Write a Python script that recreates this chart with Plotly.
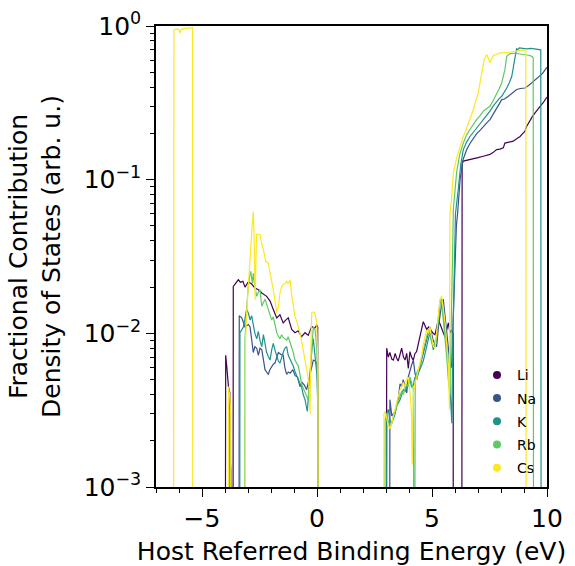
import plotly.graph_objects as go

LOW = 1e-5  # zero contribution (drawn below the axis floor)

# ---------------- data ----------------
li_x = [-4.00, -3.97, -3.92, -3.85, -3.79, -3.77,
        -3.66, -3.64, -3.55, -3.42, -3.33, -3.22, -3.13, -2.99, -2.85, -2.70, -2.55, -2.40, -2.19,
        -2.04, -1.90, -1.75, -1.61, -1.47, -1.36, -1.25, -1.10, -0.96, -0.82, -0.67, -0.52, -0.38,
        -0.23, -0.10, -0.01, 0.03, 0.05,
        3.01, 3.03, 3.10, 3.17, 3.25, 3.32, 3.40, 3.46, 3.53, 3.60, 3.68, 3.76, 3.83, 3.90, 3.97,
        4.04, 4.11, 4.19, 4.26, 4.33, 4.40, 4.48, 4.55, 4.62, 4.70, 4.77, 4.85, 4.95, 5.05, 5.13,
        5.20, 5.27, 5.35, 5.42, 5.50, 5.57, 5.64, 5.71, 5.78, 5.86, 5.92, 5.93,
        6.29, 6.31, 6.36, 6.60, 6.80, 7.00, 7.23, 7.40, 7.52, 7.65, 7.81, 7.95, 8.10, 8.17, 8.35,
        8.53, 8.70, 8.83, 8.95, 9.04, 9.10, 9.19, 9.35, 9.48, 9.60, 9.70, 9.85, 10.0]
li_y = [LOW, 0.0072, 0.0060, 0.0045, 0.0041, LOW,
        LOW, 0.0202, 0.0210, 0.0223, 0.0215, 0.0218, 0.0200, 0.0216, 0.0210, 0.0197, 0.0192, 0.0183, 0.0174,
        0.0162, 0.0143, 0.0126, 0.0132, 0.0117, 0.0122, 0.0126, 0.0106, 0.0101, 0.0104, 0.0095, 0.0101, 0.0097,
        0.0111, 0.0108, 0.0113, 0.0110, LOW,
        LOW, 0.0080, 0.0070, 0.0075, 0.0068, 0.0067, 0.0074, 0.0069, 0.0066, 0.0072, 0.0080, 0.0070, 0.0067, 0.0074, 0.0059,
        0.0076, 0.0070, 0.0067, 0.0074, 0.0076, 0.0085, 0.0093, 0.0105, 0.0119, 0.0112, 0.0106, 0.0110, 0.0104, 0.0100, 0.0098,
        0.0110, 0.0122, 0.0115, 0.0106, 0.0100, 0.0095, 0.0108, 0.0117, 0.0101, 0.0105, 0.0100, LOW,
        LOW, 0.128, 0.132, 0.135, 0.138, 0.139, 0.142, 0.144, 0.146, 0.150, 0.157, 0.158, 0.161, 0.173, 0.175,
        0.178, 0.185, 0.191, 0.200, 0.206, 0.220, 0.234, 0.255, 0.272, 0.285, 0.300, 0.320, 0.345]

na_x = [-3.80, -3.78, -3.74, -3.72,
        -3.40, -3.38, -3.27, -3.20, -3.13, -3.06, -2.98, -2.91, -2.84, -2.77, -2.70, -2.62, -2.55, -2.48,
        -2.40, -2.33, -2.26, -2.19, -2.12, -2.05, -1.97, -1.90, -1.83, -1.75, -1.68, -1.58, -1.47, -1.40,
        -1.32, -1.25, -1.17, -1.05, -0.95, -0.85, -0.74, -0.65, -0.55, -0.45, -0.35, -0.25, -0.16, -0.08,
        -0.01, 0.03, 0.05,
        3.15, 3.17, 3.25, 3.32, 3.40, 3.46, 3.53, 3.61, 3.68, 3.75, 3.83, 3.90, 3.97, 4.04, 4.11, 4.19,
        4.26, 4.33, 4.40, 4.48, 4.55, 4.62, 4.70, 4.77, 4.84, 4.91, 4.98, 5.05, 5.13, 5.20, 5.28, 5.35,
        5.42, 5.49, 5.57, 5.64, 5.71, 5.78, 5.85, 5.92, 5.98, 6.06, 6.12,
        6.22, 6.35, 6.51, 6.65, 6.80, 6.95, 7.10, 7.23, 7.40, 7.52, 7.65, 7.81, 7.92, 8.03, 8.15, 8.32,
        8.50, 8.68, 8.85, 9.04, 9.20, 9.33, 9.48, 9.62, 9.80, 10.0]
na_y = [LOW, 0.0015, 0.0013, LOW,
        LOW, 0.0130, 0.0126, 0.0118, 0.0110, 0.0112, 0.0114, 0.0110, 0.0090, 0.0075, 0.0082, 0.0080, 0.0072, 0.0080,
        0.0078, 0.0066, 0.0058, 0.0056, 0.0054, 0.0058, 0.0061, 0.0063, 0.0064, 0.0070, 0.0075, 0.0073, 0.0072, 0.0060,
        0.0054, 0.0056, 0.0055, 0.0058, 0.0053, 0.0052, 0.0045, 0.0048, 0.0046, 0.0043, 0.0050, 0.0058, 0.0067, 0.0066,
        0.0064, 0.0050, LOW,
        LOW, 0.0037, 0.0029, 0.0030, 0.0031, 0.0034, 0.0037, 0.0047, 0.0045, 0.0050, 0.0044, 0.0041, 0.0052, 0.0058, 0.0062, 0.0067,
        0.0055, 0.0050, 0.0055, 0.0062, 0.0068, 0.0075, 0.0085, 0.0095, 0.0100, 0.0110, 0.0100, 0.0090, 0.0085, 0.0082, 0.0110, 0.0136,
        0.0155, 0.0167, 0.0130, 0.0106, 0.0085, 0.0064, 0.0060, 0.012, 0.030, 0.050, 0.062,
        0.100, 0.135, 0.157, 0.172, 0.187, 0.200, 0.210, 0.222, 0.236, 0.246, 0.265, 0.286, 0.310, 0.332, 0.335, 0.349,
        0.368, 0.386, 0.392, 0.395, 0.410, 0.426, 0.442, 0.459, 0.490, 0.540]

k_x = [-3.82, -3.80, -3.76, -3.73,
       -3.37, -3.35, -3.28, -3.20, -3.13, -3.06, -2.98, -2.91, -2.84, -2.77, -2.70, -2.62, -2.55, -2.48,
       -2.40, -2.33, -2.26, -2.19, -2.12, -2.04, -1.97, -1.90, -1.83, -1.75, -1.68, -1.61, -1.54, -1.47,
       -1.40, -1.32, -1.25, -1.17, -1.10, -1.03, -0.95, -0.88, -0.81, -0.74, -0.67, -0.60, -0.52, -0.42,
       -0.35, -0.28, -0.22, -0.16, -0.09, -0.01, 0.03, 0.05,
       3.01, 3.03, 3.10, 3.17, 3.25, 3.32, 3.40, 3.46, 3.53, 3.61, 3.68, 3.75, 3.83, 3.90, 3.97, 4.04,
       4.11, 4.19, 4.26, 4.33, 4.40, 4.48, 4.55, 4.62, 4.70, 4.77, 4.84, 4.91, 4.98, 5.06, 5.13, 5.20,
       5.28, 5.35, 5.42, 5.50, 5.57, 5.64, 5.71, 5.78, 5.86, 5.90, 5.96, 6.02,
       6.14, 6.25, 6.36, 6.50, 6.65, 6.80, 6.94, 7.10, 7.23, 7.38, 7.52, 7.65, 7.81, 7.92, 8.03, 8.15,
       8.25, 8.37, 8.47, 8.57, 8.63, 8.68, 8.72, 8.80, 8.95, 9.12, 9.30, 9.50, 9.70, 9.73, 9.75]
k_y = [LOW, 0.0022, 0.0020, LOW,
       LOW, 0.0101, 0.0105, 0.0110, 0.0125, 0.0143, 0.0135, 0.0122, 0.0130, 0.0110, 0.0100, 0.0092, 0.0103, 0.0090,
       0.0082, 0.0098, 0.0085, 0.0075, 0.0071, 0.0067, 0.0078, 0.0086, 0.0078, 0.0070, 0.0066, 0.0064, 0.0070, 0.0075,
       0.0080, 0.0082, 0.0072, 0.0068, 0.0064, 0.0061, 0.0056, 0.0052, 0.0050, 0.0047, 0.0045, 0.0040, 0.0037, 0.0031,
       0.0045, 0.0065, 0.0080, 0.0092, 0.0070, 0.0055, 0.0036, LOW,
       LOW, 0.0030, 0.0032, 0.0027, 0.0026, 0.0028, 0.0030, 0.0034, 0.0035, 0.0037, 0.0040, 0.0043, 0.0042, 0.0045, 0.0048, 0.0050,
       0.0045, 0.0046, 0.0052, 0.0050, 0.0055, 0.0058, 0.0062, 0.0066, 0.0075, 0.0082, 0.0095, 0.0101, 0.0090, 0.0078, 0.0085, 0.0090,
       0.0120, 0.0157, 0.0167, 0.0130, 0.0106, 0.0085, 0.0067, 0.0045, 0.0026, 0.008, 0.030, 0.060,
       0.086, 0.125, 0.157, 0.175, 0.191, 0.205, 0.217, 0.232, 0.246, 0.262, 0.279, 0.300, 0.324, 0.337, 0.349, 0.370,
       0.395, 0.430, 0.471, 0.576, 0.669, 0.715, 0.700, 0.720, 0.715, 0.710, 0.715, 0.705, 0.703, 0.700, LOW]

rb_x = [-3.81, -3.79, -3.76, -3.73,
        -3.15, -3.13, -3.06, -2.99, -2.92, -2.88, -2.81, -2.77, -2.70, -2.62, -2.55, -2.48, -2.40, -2.33,
        -2.26, -2.19, -2.12, -2.04, -1.97, -1.90, -1.83, -1.75, -1.68, -1.61, -1.54, -1.47, -1.39, -1.32,
        -1.25, -1.17, -1.10, -1.03, -0.96, -0.88, -0.81, -0.74, -0.67, -0.60, -0.52, -0.45, -0.38, -0.30,
        -0.23, -0.16, -0.08, -0.01, 0.03, 0.05,
        2.94, 2.96, 3.03, 3.10, 3.17, 3.25, 3.32, 3.40, 3.46, 3.53, 3.61, 3.68, 3.75, 3.83, 3.90, 3.97,
        4.04, 4.11, 4.19, 4.23, 4.27, 4.33, 4.40, 4.48, 4.55, 4.62, 4.70, 4.77, 4.84, 4.91, 4.98, 5.06,
        5.13, 5.20, 5.28, 5.35, 5.42, 5.50, 5.57, 5.64, 5.71, 5.78, 5.83, 5.88, 5.93,
        6.07, 6.20, 6.36, 6.50, 6.65, 6.80, 6.94, 7.10, 7.23, 7.38, 7.52, 7.65, 7.81, 7.92, 8.03, 8.10,
        8.17, 8.25, 8.39, 8.60, 8.80, 9.00, 9.15, 9.26, 9.36, 9.40, 9.42]
rb_y = [LOW, 0.0032, 0.0028, LOW,
        LOW, 0.0090, 0.0143, 0.0202, 0.0240, 0.0253, 0.0211, 0.0246, 0.0200, 0.0174, 0.0185, 0.0192, 0.0150, 0.0160,
        0.0167, 0.0155, 0.0143, 0.0130, 0.0122, 0.0128, 0.0112, 0.0101, 0.0096, 0.0092, 0.0098, 0.0094, 0.0092, 0.0090,
        0.0095, 0.0088, 0.0082, 0.0075, 0.0067, 0.0064, 0.0061, 0.0054, 0.0047, 0.0044, 0.0041, 0.0039, 0.0037, 0.0055,
        0.0078, 0.0110, 0.0105, 0.0080, 0.0050, LOW,
        LOW, 0.0027, 0.0030, 0.0026, 0.0024, 0.0026, 0.0029, 0.0031, 0.0033, 0.0036, 0.0038, 0.0042, 0.0040, 0.0044, 0.0047, 0.0045,
        0.0052, 0.0048, 0.0043, LOW, 0.0050, 0.0055, 0.0058, 0.0062, 0.0070, 0.0078, 0.0088, 0.0095, 0.0105, 0.0098, 0.0088, 0.0082,
        0.0088, 0.0095, 0.0130, 0.0165, 0.0160, 0.0120, 0.0095, 0.0070, 0.0050, 0.0040, 0.010, 0.040, 0.065,
        0.111, 0.145, 0.173, 0.195, 0.212, 0.230, 0.246, 0.262, 0.279, 0.290, 0.300, 0.325, 0.358, 0.390, 0.426, 0.470,
        0.520, 0.636, 0.662, 0.665, 0.660, 0.655, 0.650, 0.643, 0.630, 0.620, LOW]

cs_x = [-6.24, -6.22, -6.15, -6.02, -5.96, -5.90, -5.75, -5.60, -5.45, -5.41, -5.40,
        -3.87, -3.85, -3.80, -3.75, -3.73,
        -3.13, -3.11, -3.03, -2.95, -2.88, -2.82, -2.77, -2.73, -2.69, -2.63, -2.55, -2.48, -2.40, -2.33,
        -2.23, -2.12, -2.04, -1.97, -1.90, -1.82, -1.75, -1.68, -1.61, -1.54, -1.47, -1.40, -1.32, -1.25,
        -1.17, -1.10, -1.03, -0.96, -0.88, -0.81, -0.70, -0.60, -0.50, -0.42, -0.34, -0.30, -0.26, -0.23,
        -0.15, -0.09, -0.01, 0.04, 0.06,
        2.89, 2.91, 2.96, 3.03, 3.10, 3.17, 3.25, 3.32, 3.39, 3.46, 3.53, 3.61, 3.68, 3.75, 3.83, 3.90,
        3.97, 4.04, 4.11, 4.14, 4.19, 4.26, 4.33, 4.40, 4.48, 4.55, 4.62, 4.70, 4.77, 4.84, 4.91, 4.98,
        5.06, 5.13, 5.20, 5.28, 5.35, 5.42, 5.50, 5.57, 5.64, 5.71, 5.76, 5.78, 5.85, 5.93,
        6.08, 6.22, 6.36, 6.51, 6.65, 6.80, 7.01, 7.16, 7.27, 7.38, 7.45, 7.52, 7.57, 7.67, 7.96, 8.20,
        8.39, 8.60, 8.83, 9.04, 9.08, 9.10]
cs_y = [LOW, 0.940, 0.950, 0.955, 0.900, 0.955, 0.965, 0.972, 0.975, 0.975, LOW,
        LOW, 0.0045, 0.0040, 0.0030, LOW,
        LOW, 0.0091, 0.0160, 0.0260, 0.0380, 0.0500, 0.0620, 0.0400, 0.0165, 0.0440, 0.0440, 0.0438, 0.0380, 0.0350,
        0.0294, 0.0287, 0.0248, 0.0220, 0.0192, 0.0160, 0.0136, 0.0150, 0.0183, 0.0200, 0.0207, 0.0210, 0.0218, 0.0210,
        0.0223, 0.0178, 0.0150, 0.0129, 0.0120, 0.0110, 0.0095, 0.0078, 0.0065, 0.0055, 0.0045, 0.0030, 0.0090, 0.0136,
        0.0138, 0.0136, 0.0117, 0.0060, LOW,
        LOW, 0.0030, 0.0031, 0.0028, 0.0025, 0.0024, 0.0026, 0.0029, 0.0032, 0.0036, 0.0040, 0.0043, 0.0045, 0.0048, 0.0045, 0.0050,
        0.0052, 0.0042, 0.0030, 0.0014, 0.0040, 0.0048, 0.0051, 0.0058, 0.0065, 0.0071, 0.0085, 0.0095, 0.0105, 0.0100, 0.0110, 0.0095,
        0.0082, 0.0080, 0.0100, 0.0140, 0.0167, 0.0174, 0.0140, 0.0117, 0.0085, 0.0064, 0.0032, 0.060, 0.075, 0.111,
        0.140, 0.165, 0.190, 0.217, 0.250, 0.286, 0.367, 0.495, 0.605, 0.652, 0.620, 0.576, 0.600, 0.643, 0.669, 0.672,
        0.675, 0.685, 0.693, 0.703, 0.700, LOW]

names = ["Li", "Na", "K", "Rb", "Cs"]
series_x = [li_x, na_x, k_x, rb_x, cs_x]
series_y = [li_y, na_y, k_y, rb_y, cs_y]
colors = ["#440154", "#3b528b", "#21918c", "#5ec962", "#fde725"]

x_tickvals = [-5, 0, 5, 10]
x_ticktext = ["\u22125", "0", "5", "10"]
y_tickvals = [1e-3, 1e-2, 1e-1, 1]
y_ticktext = ["10<sup>\u22123</sup>", "10<sup>\u22122</sup>", "10<sup>\u22121</sup>", "10<sup>0</sup>"]
y_minor = [k * 10.0 ** e for e in (-3, -2, -1) for k in range(2, 10)]
x_minor = list(range(-7, 11))

FONT = "DejaVu Sans"

fig = go.Figure()
for name, xs, ys, c in zip(names, series_x, series_y, colors):
    fig.add_trace(go.Scatter(x=xs, y=ys, mode="lines", line=dict(color=c, width=1.2),
                             showlegend=False, hoverinfo="skip"))
for name, c in zip(names, colors):
    fig.add_trace(go.Scatter(x=[None], y=[None], mode="markers", name=name,
                             legendgroup=name,
                             marker=dict(color=c, size=8, symbol="circle")))

axis_common = dict(showline=True, linecolor="black", linewidth=1.5, mirror=True,
                   ticks="outside", ticklen=8, tickwidth=1.3, tickcolor="black",
                   showgrid=False, zeroline=False, automargin=False,
                   tickfont=dict(family=FONT, size=25, color="black"))

fig.update_layout(
    width=575, height=566,
    margin=dict(l=156, r=28, t=26, b=79),
    paper_bgcolor="white", plot_bgcolor="white",
    font=dict(family=FONT, color="black"),
    xaxis=dict(range=[-7, 10], tickvals=x_tickvals, ticktext=x_ticktext,
               minor=dict(ticks="outside", ticklen=4, tickwidth=1.1, tickcolor="black",
                          tickvals=x_minor, showgrid=False),
               title=dict(text="Host Referred Binding Energy (eV)",
                          font=dict(family=FONT, size=25, color="black"), standoff=12),
               **axis_common),
    yaxis=dict(type="log", range=[-3, 0], tickvals=y_tickvals, ticktext=y_ticktext,
               minor=dict(ticks="outside", ticklen=4, tickwidth=1.1, tickcolor="black",
                          tickvals=y_minor, showgrid=False),
               title=dict(text="Fractional Contribution<br>Density of States (arb. u.)",
                          font=dict(family=FONT, size=25, color="black"), standoff=16),
               **axis_common),
    legend=dict(x=0.821, y=0.277, xanchor="left", yanchor="top",
                bgcolor="rgba(0,0,0,0)", borderwidth=0,
                font=dict(family=FONT, size=14, color="black"),
                tracegroupgap=2, itemwidth=30),
)

fig.write_html("out.html")
